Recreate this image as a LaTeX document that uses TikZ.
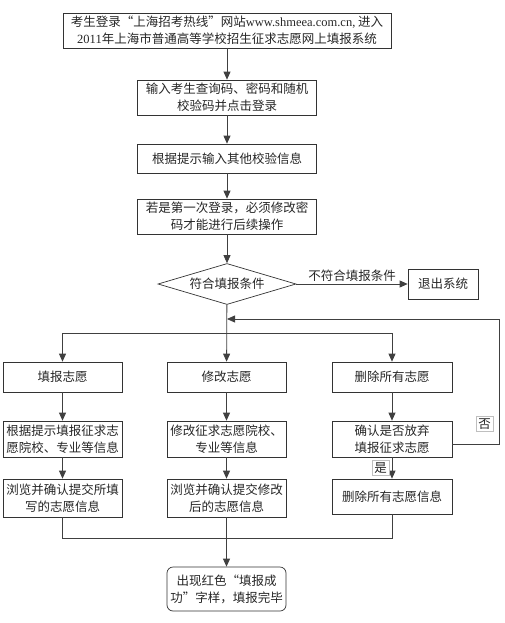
\documentclass[tikz,border=0pt]{standalone}
\usepackage{fontspec}
\setmainfont{Liberation Serif}
\newfontfamily\cjk{Noto Sans CJK SC}
\usetikzlibrary{positioning,arrows.meta,shapes.geometric}

\begin{document}
\begin{tikzpicture}[x=1pt,y=-1pt]
	\useasboundingbox (0,0) rectangle (505,623);
	\tikzstyle{every node}=[font=\cjk\fontsize{12.5}{17}\selectfont, text=black!85, draw=black!80, line width=0.7pt, align=center, inner sep=0pt]
	\tikzstyle{arrowline}=[draw=black!75, line width=0.8pt, -{Triangle[length=8pt,width=7pt]}]
	\tikzstyle{plainline}=[draw=black!75, line width=0.8pt]
	\tikzstyle{tagbox}=[draw=black!25, line width=0.5pt, inner sep=2pt, fill=white]
	% main column
	\draw (227,30.5) node (login) [minimum width=328pt, minimum height=35pt]{考生登录“上海招考热线”网站{\rmfamily www.shmeea.com.cn,} 进入\\{\rmfamily 2011}年上海市普通高等学校招生征求志愿网上填报系统};
	\draw (227,97.5) node (query) [minimum width=179pt, minimum height=35pt]{输入考生查询码、密码和随机\\校验码并点击登录};
	\draw (227,158.5) node (verify) [minimum width=179pt, minimum height=29pt]{根据提示输入其他校验信息};
	\draw (227,216.5) node (passwd) [minimum width=179pt, minimum height=35pt]{若是第一次登录，必须修改密\\码才能进行后续操作};
	\draw (227,284) node (cond) [diamond, aspect=3.4, minimum width=138pt, minimum height=41pt]{符合填报条件};
	\draw (443,284) node (quit) [minimum width=70pt, minimum height=30pt]{退出系统};
	% three branches
	\draw (62.5,377) node (fill) [minimum width=119pt, minimum height=30pt]{填报志愿};
	\draw (226.5,377) node (modify) [minimum width=119pt, minimum height=30pt]{修改志愿};
	\draw (392,377) node (delall) [minimum width=120pt, minimum height=30pt]{删除所有志愿};
	\draw (62.5,439) node (fillinfo) [minimum width=119pt, minimum height=36pt]{根据提示填报征求志\\愿院校、专业等信息};
	\draw (226.5,439) node (modinfo) [minimum width=119pt, minimum height=36pt]{修改征求志愿院校、\\专业等信息};
	\draw (392,439) node (confirm) [minimum width=120pt, minimum height=36pt]{确认是否放弃\\填报征求志愿};
	\draw (62.5,498) node (fillsubmit) [minimum width=119pt, minimum height=38pt]{浏览并确认提交所填\\写的志愿信息};
	\draw (226.5,498) node (modsubmit) [minimum width=119pt, minimum height=38pt]{浏览并确认提交修改\\后的志愿信息};
	\draw (392,496.5) node (delinfo) [minimum width=120pt, minimum height=35pt]{删除所有志愿信息};
	\draw (226.5,589) node (finish) [minimum width=119pt, minimum height=44pt, rounded corners=6pt]{出现红色“填报成\\功”字样，填报完毕};
	\coordinate (split) at (227,333);
	\coordinate (rejoin) at (227,319);
	\coordinate (back) at (499,319);
	\coordinate (merge) at (227,538);
	\tikzstyle{every node}=[font=\cjk\fontsize{12.5}{17}\selectfont, text=black!85, inner sep=1pt]
	\draw [arrowline] (login) -- (query);
	\draw [arrowline] (query) -- (verify);
	\draw [arrowline] (verify) -- (passwd);
	\draw [arrowline] (passwd) -- (cond);
	\draw [arrowline] (cond) -- node[above=1pt] {不符合填报条件} (quit);
	\draw [arrowline] (cond) -- (modify);
	\draw [arrowline] (split) -| (fill);
	\draw [arrowline] (split) -| (delall);
	\draw [arrowline] (fill) -- (fillinfo);
	\draw [arrowline] (fillinfo) -- (fillsubmit);
	\draw [arrowline] (modify) -- (modinfo);
	\draw [arrowline] (modinfo) -- (modsubmit);
	\draw [arrowline] (delall) -- (confirm);
	\draw [arrowline] (confirm) -- node[tagbox, left=3pt] {是} (delinfo);
	\draw [arrowline] ([yshift=-5pt]confirm.east) -| node[tagbox, pos=0.58, left=6pt] {否} (back) -- (rejoin);
	\draw [plainline] (fillsubmit) |- (merge);
	\draw [plainline] (delinfo) |- (merge);
	\draw [arrowline] (modsubmit) -- (finish);
\end{tikzpicture}
\end{document}
